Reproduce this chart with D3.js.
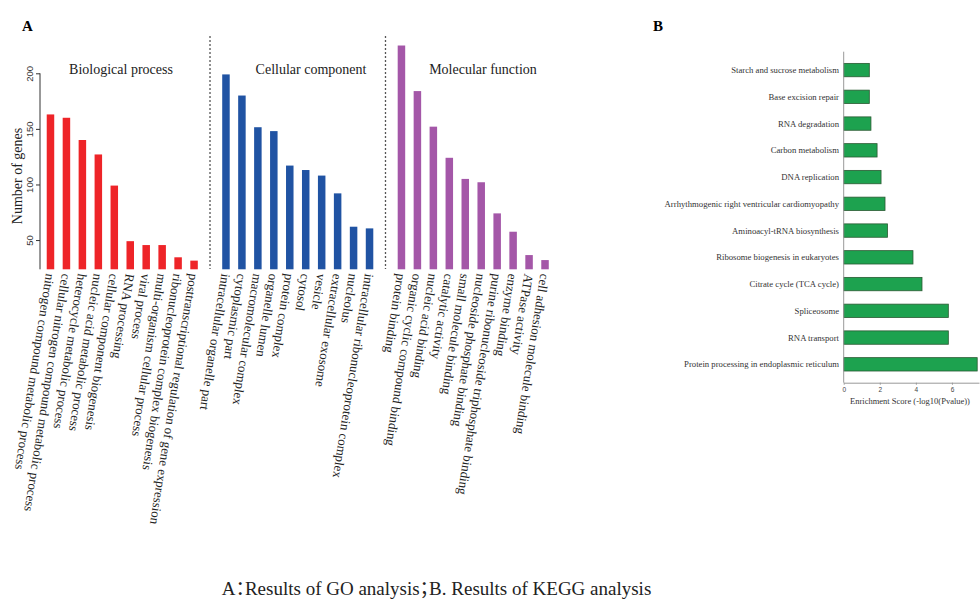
<!DOCTYPE html>
<html>
<head>
<meta charset="utf-8">
<script src="https://cdn.jsdelivr.net/npm/d3@7"></script>
<style>
  body { margin: 0; background: #fff; }
  svg { display: block; }
  .serif { font-family: "Liberation Serif", "Times New Roman", serif; }
  .sans { font-family: "Liberation Sans", Arial, sans-serif; }
  .caption { font-family: "Liberation Serif", "Noto Sans CJK SC", serif; font-feature-settings: "halt" 1; }
</style>
</head>
<body>
<div id="chart"></div>
<script>
// GO analysis (panel A)
const bpTerms = ['nitrogen compound metabolic process', 'cellular nitrogen compound metabolic process',
  'heterocycle metabolic process', 'nucleic acid metabolic process', 'cellular component biogenesis',
  'RNA processing', 'viral process', 'multi-organism cellular process',
  'ribonucleoprotein complex biogenesis', 'posttranscriptional regulation of gene expression'];
const bpCounts = [163, 160, 140, 127, 99, 49, 45.5, 45.5, 34.5, 31.5];

const ccTerms = ['intracellular organelle part', 'cytoplasmic part', 'macromolecular complex',
  'organelle lumen', 'protein complex', 'cytosol', 'vesicle', 'extracellular exosome',
  'nucleolus', 'intracellular ribonucleoprotein complex'];
const ccCounts = [199, 180, 151.5, 148, 117, 113, 108, 92, 62, 60.5];

const mfTerms = ['protein binding', 'organic cyclic compound binding', 'nucleic acid binding',
  'catalytic activity', 'small molecule binding', 'nucleoside phosphate binding',
  'purine ribonucleoside triphosphate binding', 'enzyme binding', 'ATPase activity',
  'cell adhesion molecule binding'];
const mfCounts = [225, 184, 152, 124, 105, 102, 74, 57.5, 36.5, 32];

const goTicks = [50, 100, 150, 200];

// KEGG analysis (panel B)
const keggTerms = ['Starch and sucrose metabolism', 'Base excision repair', 'RNA degradation',
  'Carbon metabolism', 'DNA replication', 'Arrhythmogenic right ventricular cardiomyopathy',
  'Aminoacyl-tRNA biosynthesis', 'Ribosome biogenesis in eukaryotes', 'Citrate cycle (TCA cycle)',
  'Spliceosome', 'RNA transport', 'Protein processing in endoplasmic reticulum'];
const keggScores = [1.42, 1.42, 1.51, 1.85, 2.07, 2.29, 2.43, 3.84, 4.34, 5.8, 5.8, 7.4];
const keggTicks = [0, 2, 4, 6];

const svg = d3.select('#chart').append('svg')
  .attr('width', 980).attr('height', 599);

// ---------- panel A ----------
const groups = [
  { name: 'Biological process', terms: bpTerms, counts: bpCounts, color: '#ee2428' },
  { name: 'Cellular component', terms: ccTerms, counts: ccCounts, color: '#2053a3' },
  { name: 'Molecular function', terms: mfTerms, counts: mfCounts, color: '#a457a8' }
];

// one band per bar, with an empty slot between the groups
const slots = [];
groups.forEach((g, i) => {
  g.terms.forEach(t => slots.push(t));
  if (i < groups.length - 1) slots.push('gap' + i);
});

const x = d3.scaleBand().domain(slots).range([42.5, 553]).paddingInner(0.53).paddingOuter(0.265);
const y = d3.scaleLinear().domain([23.7, 200]).range([269.3, 73.3]);

const gA = svg.append('g');

gA.append('g')
  .attr('class', 'sans')
  .attr('transform', 'translate(40,0)')
  .call(d3.axisLeft(y).tickValues(goTicks).tickSize(4).tickSizeOuter(0))
  .call(g => g.select('.domain').attr('stroke', '#333').attr('d', 'M0,' + y(200) + 'V' + y.range()[0]))
  .call(g => g.selectAll('.tick line').attr('stroke', '#333'))
  .call(g => g.selectAll('.tick text')
    .attr('font-size', 9.5).attr('fill', '#333')
    .attr('x', 0).attr('dy', 0)
    .attr('text-anchor', 'middle')
    .attr('transform', 'translate(-7,0) rotate(-90)'));

gA.append('text').attr('class', 'serif')
  .attr('transform', 'translate(22,176) rotate(-90)')
  .attr('text-anchor', 'middle').attr('font-size', 14).attr('fill', '#222')
  .text('Number of genes');

groups.forEach((g, i) => {
  const rows = g.terms.map((t, j) => ({ term: t, count: g.counts[j] }));

  gA.selectAll('.bar' + i).data(rows).enter().append('rect')
    .attr('class', 'bar' + i)
    .attr('x', d => x(d.term))
    .attr('width', x.bandwidth())
    .attr('y', d => y(d.count))
    .attr('height', d => y.range()[0] - y(d.count))
    .attr('fill', g.color);

  gA.selectAll('.lab' + i).data(rows).enter().append('text')
    .attr('class', 'serif lab' + i)
    .attr('transform', d => 'translate(' + (x(d.term) + x.bandwidth() / 2) + ',274) rotate(99)')
    .attr('dy', '0.35em')
    .attr('font-size', 13).attr('fill', '#222')
    .text(d => d.term);

  gA.append('text').attr('class', 'serif')
    .attr('x', [121, 311, 483][i]).attr('y', 74)
    .attr('text-anchor', 'middle').attr('font-size', 14).attr('fill', '#222')
    .text(g.name);

  if (i < groups.length - 1) {
    const sx = x('gap' + i) + x.bandwidth() / 2;
    gA.append('line')
      .attr('x1', sx).attr('x2', sx).attr('y1', 36).attr('y2', 269)
      .attr('stroke', '#555').attr('stroke-width', 1.3).attr('stroke-dasharray', '2,2');
  }
});

svg.append('text').attr('class', 'serif')
  .attr('x', 22).attr('y', 31).attr('font-size', 15).attr('font-weight', 'bold')
  .text('A');

// ---------- panel B ----------
const xb = d3.scaleLinear().domain([0, 7.5]).range([843.7, 979]);
const yb = d3.scaleBand().domain(keggTerms).range([56.7, 377.7]).paddingInner(0.5).paddingOuter(0.25);

const gB = svg.append('g');

gB.selectAll('.kbar').data(keggTerms).enter().append('rect')
  .attr('class', 'kbar')
  .attr('x', xb(0))
  .attr('y', d => yb(d))
  .attr('width', (d, i) => xb(keggScores[i]) - xb(0))
  .attr('height', yb.bandwidth())
  .attr('fill', '#1da24f')
  .attr('stroke', '#2b5a33').attr('stroke-width', 0.8);

gB.selectAll('.klab').data(keggTerms).enter().append('text')
  .attr('class', 'serif klab')
  .attr('x', 839)
  .attr('y', d => yb(d) + yb.bandwidth() / 2)
  .attr('dy', '0.35em')
  .attr('text-anchor', 'end').attr('font-size', 8.7).attr('fill', '#333')
  .text(d => d);

gB.append('line')
  .attr('x1', xb(0)).attr('x2', xb(0)).attr('y1', 51.7).attr('y2', 382.7)
  .attr('stroke', '#999').attr('stroke-width', 1);

gB.append('g')
  .attr('class', 'sans')
  .attr('transform', 'translate(0,382.7)')
  .call(d3.axisBottom(xb).tickValues(keggTicks).tickSize(2).tickSizeOuter(0))
  .call(g => g.select('.domain').attr('stroke', '#999'))
  .call(g => g.selectAll('.tick line').attr('stroke', '#999'))
  .call(g => g.selectAll('.tick text').attr('font-size', 6.5).attr('fill', '#444').attr('dy', '0.6em'));

gB.append('text').attr('class', 'serif')
  .attr('x', 910).attr('y', 404)
  .attr('text-anchor', 'middle').attr('font-size', 8.5).attr('fill', '#333')
  .text('Enrichment Score (-log10(Pvalue))');

svg.append('text').attr('class', 'serif')
  .attr('x', 653).attr('y', 31).attr('font-size', 15).attr('font-weight', 'bold')
  .text('B');

// caption; "halt" makes the full-width punctuation half width
svg.append('text').attr('class', 'caption')
  .attr('x', 436.5).attr('y', 595)
  .attr('text-anchor', 'middle').attr('font-size', 19).attr('fill', '#222')
  .text('A：Results of GO analysis；B. Results of KEGG analysis');
</script>
</body>
</html>
